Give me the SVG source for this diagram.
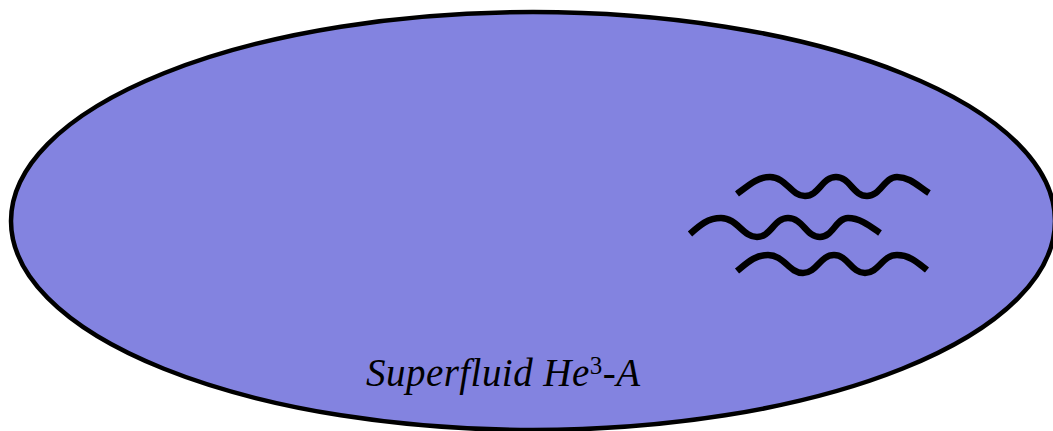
<svg xmlns="http://www.w3.org/2000/svg" width="1053" height="431" viewBox="0 0 1053 431">
<style>
.body{fill:#8383e0;stroke:#000;stroke-width:4.5}
.wave{fill:none;stroke:#000;stroke-width:6.5;stroke-linecap:butt}
.lbl{font-family:"Liberation Serif","DejaVu Serif",serif;font-style:italic;font-size:39px;fill:#000}
</style>
<rect width="1053" height="431" fill="#fff"/>
<g id="superfluid">
<ellipse class="body" cx="533" cy="221" rx="522" ry="209"/>
<text class="lbl" x="366" y="386" textLength="274" lengthAdjust="spacing">Superfluid He<tspan font-size="25" font-style="normal" dy="-12">3</tspan><tspan dy="12">-A</tspan></text>
</g>
<g id="waves">
<path class="wave" d="M737,194 C750,184 758,177 770,177 C786,177 791,196 805,196 C819,196 822,177 836,177 C850,177 853,196 867,196 C881,196 884,177 897,177 C910,177 918,186 929,193"/>
<path class="wave" d="M690,234 C700,225 708,218 721,218 C737,218 743,237 757,237 C771,237 774,218 788,218 C803,218 806,237 820,237 C833,237 836,218 848,218 C860,218 870,226 880,233"/>
<path class="wave" d="M737,271 C748,262 755,255 768,255 C784,255 789,273 803,273 C817,273 820,255 834,255 C848,255 851,273 865,273 C879,273 882,255 897,255 C910,255 918,263 927,270"/>
</g>
</svg>
